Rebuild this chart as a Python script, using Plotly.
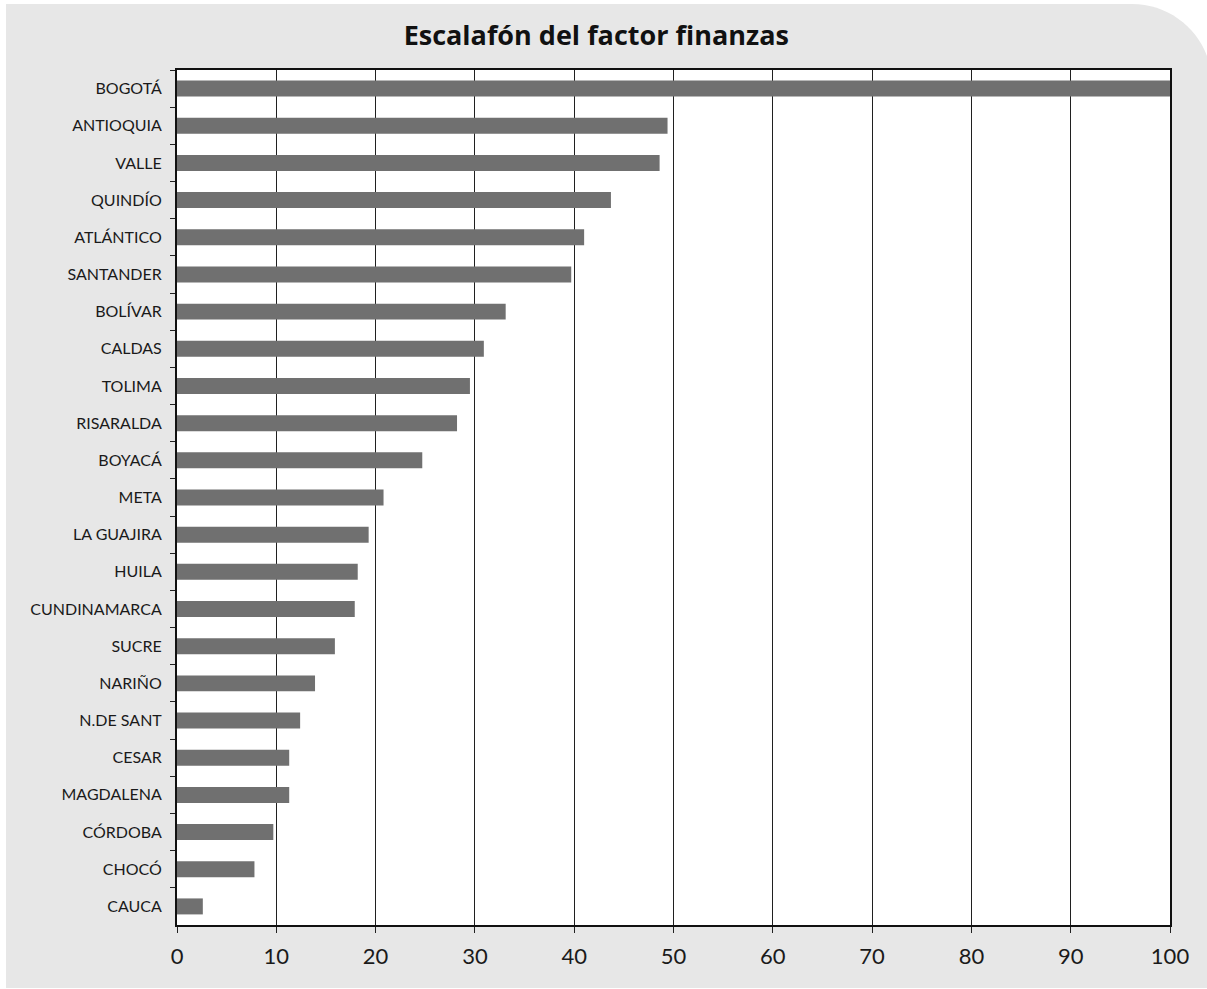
import plotly.graph_objects as go

# Escalafón del factor finanzas por departamento
departamentos = [
    "BOGOTÁ", "ANTIOQUIA", "VALLE", "QUINDÍO", "ATLÁNTICO", "SANTANDER",
    "BOLÍVAR", "CALDAS", "TOLIMA", "RISARALDA", "BOYACÁ", "META",
    "LA GUAJIRA", "HUILA", "CUNDINAMARCA", "SUCRE", "NARIÑO", "N.DE SANT",
    "CESAR", "MAGDALENA", "CÓRDOBA", "CHOCÓ", "CAUCA",
]
puntaje = [
    100.0, 49.4, 48.6, 43.7, 41.0, 39.7,
    33.1, 30.9, 29.5, 28.2, 24.7, 20.8,
    19.3, 18.2, 17.9, 15.9, 13.9, 12.4,
    11.3, 11.3, 9.7, 7.8, 2.6,
]
x_ticks = list(range(0, 101, 10))

W, H = 1207, 989
L, R, T, B = 177, 37, 70, 64
pw, ph = W - L - R, H - T - B


def px(x):
    return (x - L) / pw


def py(y):
    return (H - B - y) / ph


# grey rounded panel behind the chart (rounded top-right corner)
x0, x1, y0, y1, r = 6, 1212, 4, 988, 80
k = 0.5523 * r
panel = (
    f"M {px(x0)},{py(y1)} L {px(x0)},{py(y0)} L {px(x1 - r)},{py(y0)} "
    f"C {px(x1 - r + k)},{py(y0)} {px(x1)},{py(y0 + r - k)} {px(x1)},{py(y0 + r)} "
    f"L {px(x1)},{py(y1)} Z"
)

fig = go.Figure(
    go.Bar(
        x=puntaje,
        y=departamentos,
        orientation="h",
        marker=dict(color="#707070", line=dict(width=0)),
        hoverinfo="x+y",
    )
)

fig.update_layout(
    width=W,
    height=H,
    margin=dict(l=L, r=R, t=T, b=B),
    paper_bgcolor="white",
    plot_bgcolor="rgba(0,0,0,0)",
    bargap=0.57,
    showlegend=False,
    font=dict(family="Lato, 'Open Sans', sans-serif", color="#1a1a1a"),
    title=dict(
        text="<b>Escalafón del factor finanzas</b>",
        x=0.494,
        xanchor="center",
        y=1 - 36 / H,
        yanchor="middle",
        font=dict(size=27, color="#111111", family="'Open Sans', Lato, sans-serif"),
    ),
    shapes=[
        dict(type="path", path=panel, xref="paper", yref="paper",
             fillcolor="#e7e7e7", line=dict(width=0), layer="below"),
        dict(type="rect", x0=0, x1=1, y0=0, y1=1, xref="paper", yref="paper",
             fillcolor="white", line=dict(width=0), layer="below"),
    ],
)

fig.update_xaxes(
    range=[0, 100],
    tickvals=x_ticks,
    ticks="outside",
    ticklen=6,
    tickcolor="#222222",
    tickfont=dict(size=22, color="#1a1a1a"),
    ticklabelstandoff=5,
    showgrid=True,
    gridcolor="#202020",
    gridwidth=1,
    showline=True,
    linecolor="#111111",
    linewidth=2,
    mirror=True,
    zeroline=False,
    fixedrange=True,
)

fig.update_yaxes(
    type="category",
    categoryorder="array",
    categoryarray=departamentos,
    autorange="reversed",
    ticks="outside",
    tickson="boundaries",
    ticklen=5,
    tickcolor="#222222",
    tickfont=dict(size=16, color="#1a1a1a"),
    ticklabelstandoff=10,
    showgrid=False,
    showline=True,
    linecolor="#111111",
    linewidth=2,
    mirror=True,
    fixedrange=True,
)

fig.write_html("out.html")
